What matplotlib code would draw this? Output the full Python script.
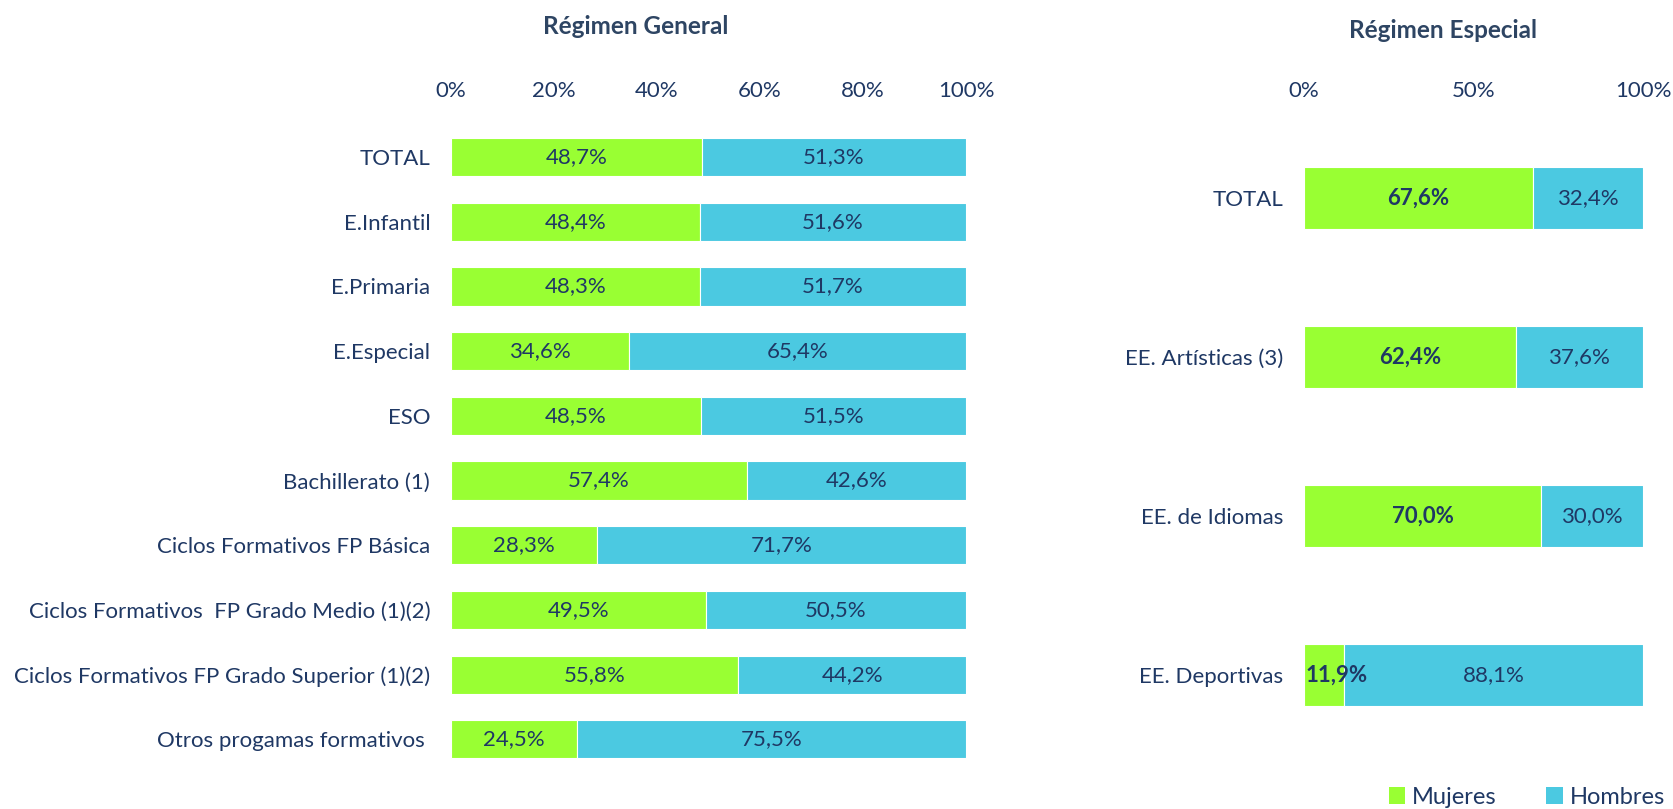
import matplotlib
matplotlib.use("Agg")
import matplotlib.pyplot as plt
from matplotlib.patches import Patch

plt.rcParams['font.family'] = ['Lato', 'DejaVu Sans']

gen_categories = ["TOTAL", "E.Infantil", "E.Primaria", "E.Especial", "ESO",
                  "Bachillerato (1)", "Ciclos Formativos FP Básica",
                  "Ciclos Formativos  FP Grado Medio (1)(2)",
                  "Ciclos Formativos FP Grado Superior (1)(2)",
                  "Otros progamas formativos "]
gen_mujeres = [48.7, 48.4, 48.3, 34.6, 48.5, 57.4, 28.3, 49.5, 55.8, 24.5]
gen_hombres = [51.3, 51.6, 51.7, 65.4, 51.5, 42.6, 71.7, 50.5, 44.2, 75.5]

esp_categories = ["TOTAL", "EE. Artísticas (3)", "EE. de Idiomas", "EE. Deportivas"]
esp_mujeres = [67.6, 62.4, 70.0, 11.9]
esp_hombres = [32.4, 37.6, 30.0, 88.1]

gen_ticks = [0, 20, 40, 60, 80, 100]
esp_ticks = [0, 50, 100]
series_names = ["Mujeres", "Hombres"]

GREEN = "#99FF33"
BLUE = "#4BC9E1"
TXT = "#1F3864"
TITLE = "#2E4563"
FS = 16

W, H = 1673, 809
fig = plt.figure(figsize=(W / 100, H / 100), dpi=100)


def fmt(v):
    return f"{v:.1f}".replace(".", ",") + "%"


def draw(ax, cats, muj, hom, ticks, height, bold_muj, title, title_xy, xpad):
    y = list(range(len(cats)))
    ax.barh(y, muj, height=height, color=GREEN, edgecolor="white", linewidth=0.8)
    ax.barh(y, hom, left=muj, height=height, color=BLUE, edgecolor="white", linewidth=0.8)
    for yi, m, h in zip(y, muj, hom):
        ax.text(max(m / 2, 9.5) if bold_muj else m / 2, yi, fmt(m), ha="center",
                va="center", fontsize=FS, color=TXT,
                fontweight="bold" if bold_muj else "normal")
        ax.text(m + h / 2, yi, fmt(h), ha="center", va="center", fontsize=FS, color=TXT)
    ax.set_xlim(0, 100)
    ax.set_ylim(len(cats) - 0.5, -0.5)
    ax.set_yticks(y)
    ax.set_yticklabels(cats, fontsize=FS, color=TXT)
    ax.set_xticks(ticks)
    ax.set_xticklabels([f"{t}%" for t in ticks], fontsize=FS, color=TXT)
    ax.xaxis.tick_top()
    ax.tick_params(axis="x", length=0, pad=xpad)
    ax.tick_params(axis="y", length=0, pad=15)
    for s in ax.spines.values():
        s.set_visible(False)
    fig.text(title_xy[0] / W, 1 - title_xy[1] / H, title, ha="center", va="center",
             fontsize=17.5, fontweight="bold", color=TITLE)


# left axes
x0, x1 = 451, 966
top, bot = 124.7, 771.7
ax1 = fig.add_axes([x0 / W, 1 - bot / H, (x1 - x0) / W, (bot - top) / H])
draw(ax1, gen_categories, gen_mujeres, gen_hombres, gen_ticks, 0.59, False,
     "Régimen General", (636, 27), 17)

# right axes
x0, x1 = 1304, 1643
top, bot = 118.5, 754.5
ax2 = fig.add_axes([x0 / W, 1 - bot / H, (x1 - x0) / W, (bot - top) / H])
draw(ax2, esp_categories, esp_mujeres, esp_hombres, esp_ticks, 0.39, True,
     "Régimen Especial", (1443, 30), 12.5)

handles = [Patch(facecolor=GREEN, label=series_names[0]),
           Patch(facecolor=BLUE, label=series_names[1])]
fig.legend(handles=handles, loc="center", bbox_to_anchor=(1527 / W, 1 - 797 / H),
           ncol=2, frameon=False, fontsize=17, handlelength=0.7, handleheight=0.7,
           handletextpad=0.3, columnspacing=2.1, labelcolor=TXT, borderpad=0)

fig.savefig("out.png", dpi=100, facecolor="white")
